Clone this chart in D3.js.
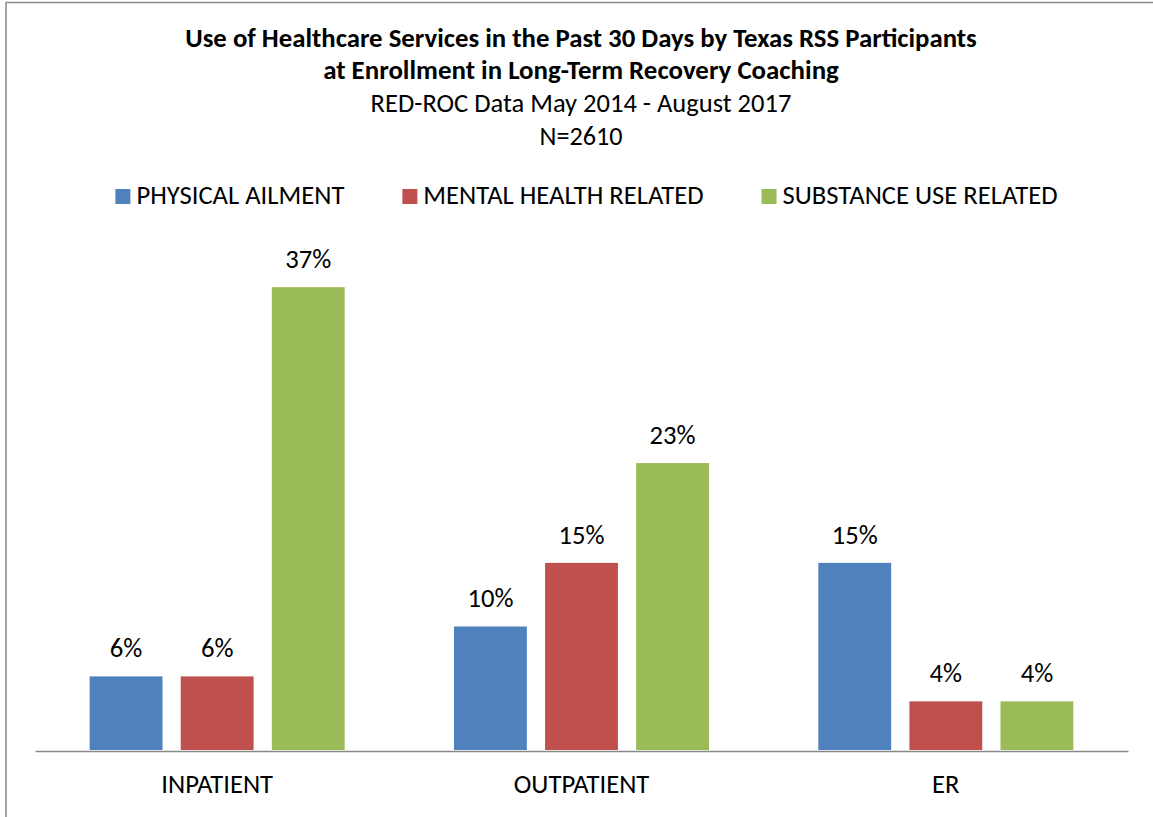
<!DOCTYPE html>
<html>
<head>
<meta charset="utf-8">
<title>Use of Healthcare Services</title>
<script src="https://cdn.jsdelivr.net/npm/d3@7"></script>
<style>
  body { margin: 0; background: #fff; }
  text { font-family: Carlito, Calibri, Lato, "Open Sans", sans-serif; fill: #000; }
</style>
</head>
<body>
<div id="chart"></div>
<script>
// values
var categories = ["INPATIENT", "OUTPATIENT", "ER"];
var seriesNames = ["PHYSICAL AILMENT", "MENTAL HEALTH RELATED", "SUBSTANCE USE RELATED"];
var physical = [0.059, 0.099, 0.150];
var mental = [0.059, 0.150, 0.039];
var substance = [0.371, 0.230, 0.039];
var colors = ["#4F81BD", "#C0504D", "#9BBB59"];
var titleLines = [
  "Use of Healthcare Services in the Past 30 Days by Texas RSS Participants",
  "at Enrollment in Long-Term Recovery Coaching"
];
var subLines = ["RED-ROC Data May 2014 - August 2017", "N=2610"];

var series = [physical, mental, substance];
var rows = categories.map(function (c, i) {
  return { cat: c, vals: series.map(function (s, j) { return { key: seriesNames[j], v: s[i], j: j }; }) };
});

var W = 1153, H = 817;
var svg = d3.select("#chart").append("svg").attr("width", W).attr("height", H);
svg.append("rect").attr("width", W).attr("height", H).attr("fill", "#fff");
svg.append("rect").attr("x", 6).attr("y", 2.5).attr("width", W + 50).attr("height", H + 50)
  .attr("fill", "none").attr("stroke", "#898989").attr("stroke-width", 1.5);

// pick a font size so the text is as wide as in the picture
function fitSize(str, weight, target) {
  var t = svg.append("text").attr("font-size", 26).attr("font-weight", weight).text(str);
  var len = t.node().getComputedTextLength();
  t.remove();
  return 26 * target / len;
}

var cx = 581;
var titleWidths = [792, 516];
var subWidths = [421, 83];
var titleBase = [47, 79];
var subBase = [112, 145];
titleLines.forEach(function (s, i) {
  svg.append("text").attr("x", cx).attr("y", titleBase[i]).attr("text-anchor", "middle")
    .attr("font-weight", "bold").attr("font-size", fitSize(s, "bold", titleWidths[i])).text(s);
});
subLines.forEach(function (s, i) {
  svg.append("text").attr("x", cx).attr("y", subBase[i]).attr("text-anchor", "middle")
    .attr("font-size", fitSize(s, "normal", subWidths[i])).text(s);
});

var fs = fitSize("PHYSICAL AILMENT", "normal", 208);

// legend
var legend = svg.append("g");
var lx = 0, gap = 58;
seriesNames.forEach(function (name, j) {
  var g = legend.append("g").attr("transform", "translate(" + lx + ",0)");
  g.append("rect").attr("x", 0).attr("y", 189).attr("width", 15).attr("height", 15).attr("fill", colors[j]);
  var t = g.append("text").attr("x", 21).attr("y", 204).attr("font-size", fs).text(name);
  lx += 21 + t.node().getComputedTextLength() + gap;
});
lx -= gap;
legend.attr("transform", "translate(" + (586.5 - lx / 2) + ",0)");

// scales
var x0 = d3.scaleBand().domain(categories).range([35, 1128]);
var x1 = d3.scaleBand().domain(seriesNames).range([0, x0.bandwidth()]).paddingInner(0.2).paddingOuter(0.6);
var y = d3.scaleLinear().domain([0, 0.40]).range([750, 251]);
var pct = d3.format(".0%");

var groups = svg.selectAll(".grp").data(rows).enter().append("g")
  .attr("class", "grp")
  .attr("transform", function (d) { return "translate(" + x0(d.cat) + ",0)"; });

groups.selectAll("rect").data(function (d) { return d.vals; }).enter().append("rect")
  .attr("x", function (d) { return x1(d.key); })
  .attr("y", function (d) { return y(d.v); })
  .attr("width", x1.bandwidth())
  .attr("height", function (d) { return y(0) - y(d.v); })
  .attr("fill", function (d) { return colors[d.j]; });

groups.selectAll(".lbl").data(function (d) { return d.vals; }).enter().append("text")
  .attr("class", "lbl")
  .attr("x", function (d) { return x1(d.key) + x1.bandwidth() / 2; })
  .attr("y", function (d) { return y(d.v) - 19; })
  .attr("text-anchor", "middle")
  .attr("font-size", fs)
  .text(function (d) { return pct(d.v); });

// category axis
var xAxis = svg.append("g").attr("transform", "translate(0,751)")
  .call(d3.axisBottom(x0).tickSize(0).tickPadding(0));
xAxis.select(".domain").attr("stroke", "#898989").attr("stroke-width", 1.5);
xAxis.selectAll(".tick text").attr("font-size", fs).attr("dy", 0).attr("y", 42)
  .attr("font-family", null);
</script>
</body>
</html>
